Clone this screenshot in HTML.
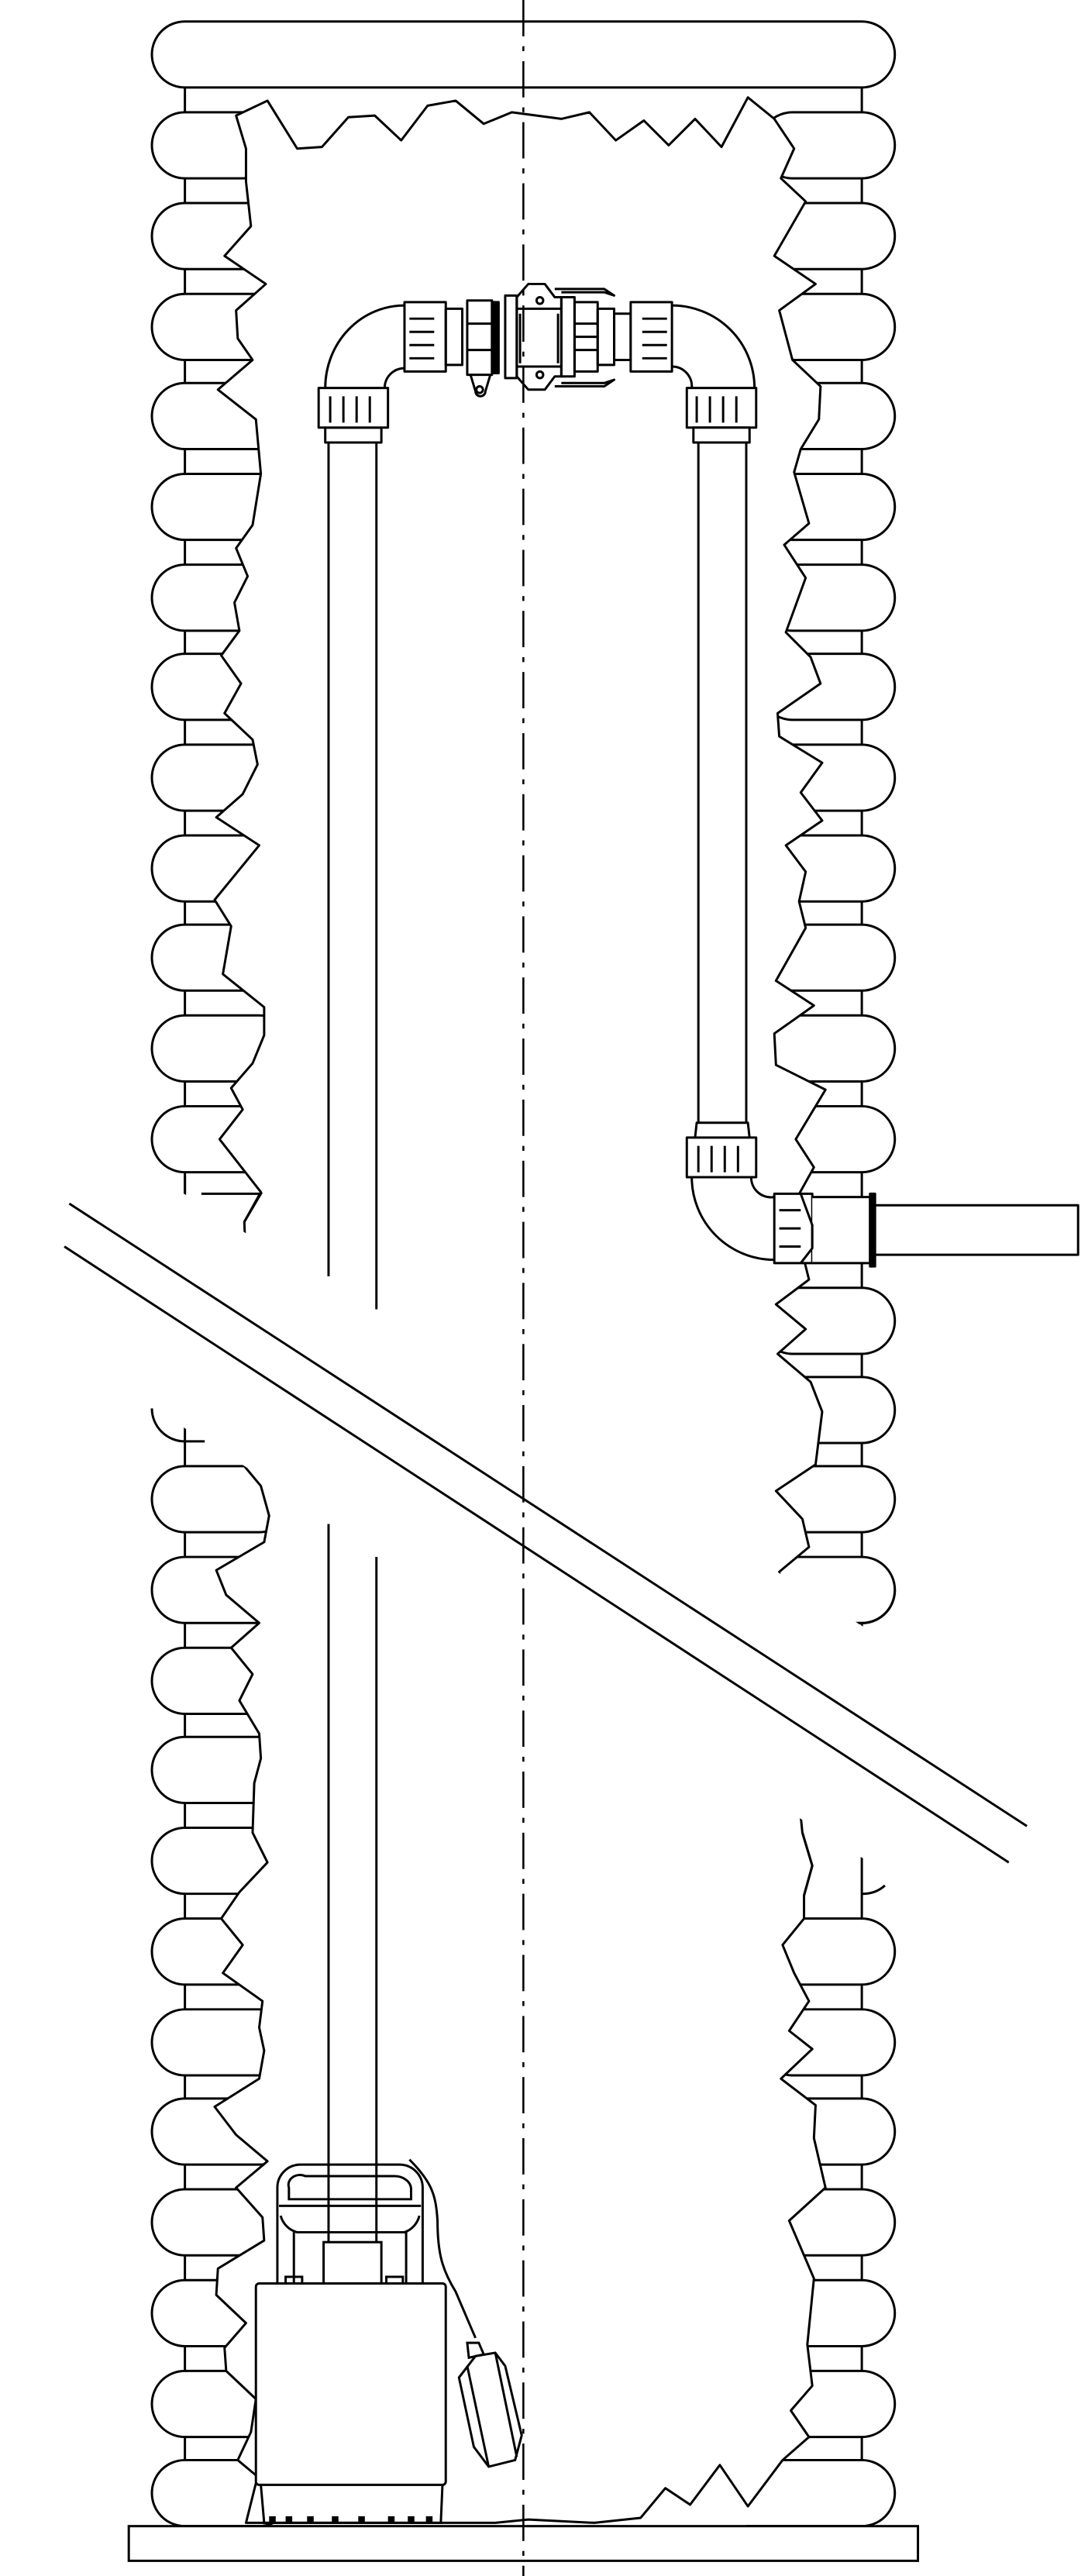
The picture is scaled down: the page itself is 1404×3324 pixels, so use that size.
<!DOCTYPE html>
<html><head><meta charset="utf-8"><style>html,body{margin:0;padding:0;background:#fff}svg{display:block}</style></head>
<body>
<svg width="1404" height="3324" viewBox="0 0 659 1560.2" preserveAspectRatio="none" xmlns="http://www.w3.org/2000/svg">
<g fill="none" stroke="#000" stroke-width="1.4" stroke-linejoin="round">
<line x1="112" y1="53" x2="112" y2="1530"/>
<line x1="522" y1="53" x2="522" y2="1530"/>
<rect x="92" y="13" width="450" height="40" rx="20" fill="#fff"/>
<g fill="#fff">
<rect x="92" y="68" width="75" height="40" rx="20"/><rect x="92" y="123" width="85" height="40" rx="20"/>
<rect x="92" y="178" width="85" height="40" rx="20"/><rect x="92" y="232" width="85" height="40" rx="20"/>
<rect x="92" y="287" width="85" height="40" rx="20"/><rect x="92" y="342" width="85" height="40" rx="20"/>
<rect x="92" y="396" width="85" height="40" rx="20"/><rect x="92" y="451" width="85" height="40" rx="20"/>
<rect x="92" y="506" width="85" height="40" rx="20"/><rect x="92" y="560" width="85" height="40" rx="20"/>
<rect x="92" y="615" width="85" height="40" rx="20"/><rect x="92" y="670" width="85" height="40" rx="20"/>
<rect x="92" y="888" width="85" height="40" rx="20"/><rect x="92" y="943" width="85" height="40" rx="20"/>
<rect x="92" y="998" width="85" height="40" rx="20"/><rect x="92" y="1052" width="85" height="40" rx="20"/>
<rect x="92" y="1107" width="85" height="40" rx="20"/><rect x="92" y="1162" width="85" height="40" rx="20"/>
<rect x="92" y="1217" width="85" height="40" rx="20"/><rect x="92" y="1271" width="85" height="40" rx="20"/>
<rect x="92" y="1326" width="85" height="40" rx="20"/><rect x="92" y="1381" width="85" height="40" rx="20"/>
<rect x="92" y="1436" width="85" height="40" rx="20"/><rect x="92" y="1490" width="85" height="40" rx="20"/>
<rect x="460" y="68" width="82" height="40" rx="20"/><rect x="460" y="123" width="82" height="40" rx="20"/>
<rect x="460" y="178" width="82" height="40" rx="20"/><rect x="460" y="232" width="82" height="40" rx="20"/>
<rect x="460" y="287" width="82" height="40" rx="20"/><rect x="460" y="342" width="82" height="40" rx="20"/>
<rect x="460" y="396" width="82" height="40" rx="20"/><rect x="460" y="451" width="82" height="40" rx="20"/>
<rect x="460" y="506" width="82" height="40" rx="20"/><rect x="460" y="560" width="82" height="40" rx="20"/>
<rect x="460" y="615" width="82" height="40" rx="20"/><rect x="460" y="670" width="82" height="40" rx="20"/>
<rect x="460" y="780" width="82" height="40" rx="20"/><rect x="460" y="834" width="82" height="40" rx="20"/>
<rect x="460" y="888" width="82" height="40" rx="20"/><rect x="460" y="943" width="82" height="40" rx="20"/>
<rect x="460" y="1162" width="82" height="40" rx="20"/><rect x="460" y="1217" width="82" height="40" rx="20"/>
<rect x="460" y="1271" width="82" height="40" rx="20"/><rect x="460" y="1326" width="82" height="40" rx="20"/>
<rect x="460" y="1381" width="82" height="40" rx="20"/><rect x="460" y="1436" width="82" height="40" rx="20"/>
</g>
<path d="M474 1490H522A20 20 0 0 1 522 1530H452" fill="#fff"/>
<polygon fill="#fff" points="143,70 162,61 180,90 195,89 211,71 227,70 243,85 259,64 276,61 293,75 310,68 340,72 357,68 373,85 390,73 405,88 421,72 437,89 453,59 469,72 481,90 473,108 488,122 469,155 494,172 472,188 480,218 497,234 496,254 485,272 481,286 490,317 475,330 488,350 476,383 491,398 497,414 471,432 472,446 498,462 485,480 498,497 476,512 488,528 484,546 488,562 470,594 493,609 469,626 470,645 500,660 482,690 493,707 483,725 493,742 487,763 490,775 470,790 488,805 471,820 491,837 498,855 494,887 470,903 486,920 490,937 472,952 480,1050 486,1110 492,1130 487,1148 487,1162 474,1178 481,1195 490,1212 478,1230 492,1241 473,1259 494,1275 493,1295 500,1325 478,1345 493,1380 489,1420 492,1445 479,1460 490,1476 474,1490 453,1518 436,1493 418,1517 403,1507 388,1525 360,1528 320,1526 300,1528 149,1528 156,1500 144,1490 152,1473 155,1453 137,1436 136,1422 149,1407 131,1390 132,1374 160,1357 159,1343 143,1325 162,1309 143,1293 130,1276 157,1259 160,1242 157,1228 159,1212 135,1195 147,1178 134,1162 145,1146 162,1128 153,1110 154,1080 158,1065 157,1050 145,1030 153,1014 140,998 157,983 137,966 131,951 160,934 163,918 158,900 148,888 150,800 148,740 158,722 133,690 147,672 140,659 153,644 160,627 160,610 135,590 140,561 130,545 157,512 131,495 147,481 156,463 153,448 136,432 146,414 134,397 145,382 142,365 150,349 143,332 153,318 158,287 155,254 132,236 153,218 144,205 143,188 161,172 136,155 152,137 149,110 149,90"/>
<line x1="199" y1="268" x2="199" y2="773"/><line x1="228" y1="268" x2="228" y2="793"/>
<rect x="197" y="259" width="34" height="9" fill="#fff"/>
<rect x="193" y="235" width="42" height="24" fill="#fff"/>
<path d="M200 240V256M208 240V256M216 240V256M224 240V256"/>
<path d="M197 235A48 50 0 0 1 245 185M233 235A12 12 0 0 1 245 223"/>
<rect x="245" y="183" width="25" height="42" fill="#fff"/>
<path d="M248 193H263M248 201H263M248 209H263M248 217H263"/>
<rect x="270" y="187" width="10" height="34"/>
<rect x="283" y="182" width="15" height="45"/>
<path d="M283 196H298M283 212H298"/>
<path d="M285 227L288 237A3 3 0 0 0 294 237L297 227"/><circle cx="290.5" cy="236" r="2"/>
<rect x="298" y="183" width="4" height="43" fill="#000"/>
<rect x="306" y="179" width="7" height="50"/>
<path d="M313 180L320 172H330L336 180H340V228H336L330 236H320L313 228Z"/>
<path d="M313 187H340M313 222H340M315 190V220M338 190V220"/>
<circle cx="327" cy="182" r="2"/><circle cx="327" cy="227" r="2"/>
<path d="M336 175H366L372 179L366 177H340M336 234H366L372 230L366 232H340"/>
<rect x="340" y="180" width="8" height="48"/>
<rect x="348" y="183" width="14" height="42"/>
<path d="M348 196H362M348 204H362M348 212H362"/>
<rect x="362" y="187" width="10" height="34"/>
<rect x="372" y="190" width="10" height="28"/>
<rect x="382" y="183" width="25" height="42" fill="#fff"/>
<path d="M389 193H404M389 201H404M389 209H404M389 217H404"/>
<path d="M407 185A50 50 0 0 1 457 235M407 222A12 12 0 0 1 419 235"/>
<rect x="416" y="235" width="42" height="24" fill="#fff"/>
<path d="M422 240V256M430 240V256M438 240V256M446 240V256"/>
<rect x="420" y="259" width="34" height="9" fill="#fff"/>
<line x1="423" y1="268" x2="423" y2="680"/><line x1="452" y1="268" x2="452" y2="680"/>
<path d="M421 689L422 680H453L454 689" fill="#fff"/>
<rect x="416" y="689" width="42" height="24" fill="#fff"/>
<path d="M423 694V710M431 694V710M439 694V710M447 694V710"/>
<path d="M419 713A50 50 0 0 0 469 763M455 713A12 12 0 0 0 469 725"/>
<rect x="469" y="723" width="23" height="42" fill="#fff"/>
<path d="M492 725H527V765H492" fill="#fff"/>
<path d="M472 733H485M472 744H485M472 755H485"/>
<path d="M485 723L492 742V756L485 765"/>
<rect x="527" y="723" width="3" height="44" fill="#000"/>
<rect x="530" y="730" width="123" height="30" fill="#fff"/>
</g>
<polygon fill="#fff" points="0,652 659,1072 659,1212 0,794"/>
<g fill="none" stroke="#000" stroke-width="1.4">
<path d="M112 712V723M122 723H158L148 740"/>
<path d="M92 853A20 20 0 0 0 112 873H124"/>
<path d="M520 983A20 20 0 0 0 542 963"/>
<path d="M486 1110L492 1130L487 1148M522 1147A20 20 0 0 0 536 1142"/>
<line x1="42" y1="729" x2="622" y2="1106"/>
<line x1="39" y1="755" x2="611" y2="1128"/>
<rect x="78" y="1530" width="478" height="21" fill="#fff"/>
<path d="M168 1383V1325A14 14 0 0 1 182 1311H242A14 14 0 0 1 256 1325V1383" fill="#fff"/>
<path d="M175 1332V1325A7 6 0 0 1 185 1318H239A10 8 0 0 1 249 1326V1332Z"/>
<path d="M169 1336H255M170 1342A14 14 0 0 0 180 1352H245A14 14 0 0 0 254 1342"/>
<path d="M178 1352V1383M246 1352V1383"/>
<rect x="196" y="1358" width="35" height="25" fill="#fff"/>
<line x1="199" y1="923" x2="199" y2="1358"/><line x1="228" y1="943" x2="228" y2="1358"/>
<rect x="173" y="1379" width="10" height="4"/><rect x="234" y="1379" width="10" height="4"/>
<rect x="155" y="1383" width="115" height="122" rx="2" fill="#fff"/>
<path d="M158 1505L160 1528H267L268 1505"/>
<path d="M248 1308C262 1322 264 1330 265 1345C265 1365 268 1375 276 1388L288 1416"/>
<path d="M284 1428L283 1419H290L293 1426Z"/>
<polygon points="288,1427 300,1425 306,1433 316,1475 312,1490 296,1494 287,1482 278,1440" fill="#fff"/>
<path d="M283 1433L296 1494M300 1425L313 1488"/>
</g>
<g fill="#000">
<rect x="163" y="1524" width="4" height="4"/><rect x="173" y="1524" width="4" height="4"/><rect x="186" y="1524" width="4" height="4"/><rect x="201" y="1524" width="4" height="4"/><rect x="217" y="1524" width="4" height="4"/><rect x="235" y="1524" width="4" height="4"/><rect x="247" y="1524" width="4" height="4"/><rect x="258" y="1524" width="4" height="4"/>
</g>
<line x1="317" y1="0" x2="317" y2="1568" stroke="#000" stroke-width="1.2" stroke-dasharray="22,6,3,6"/>
</svg>
</body></html>
